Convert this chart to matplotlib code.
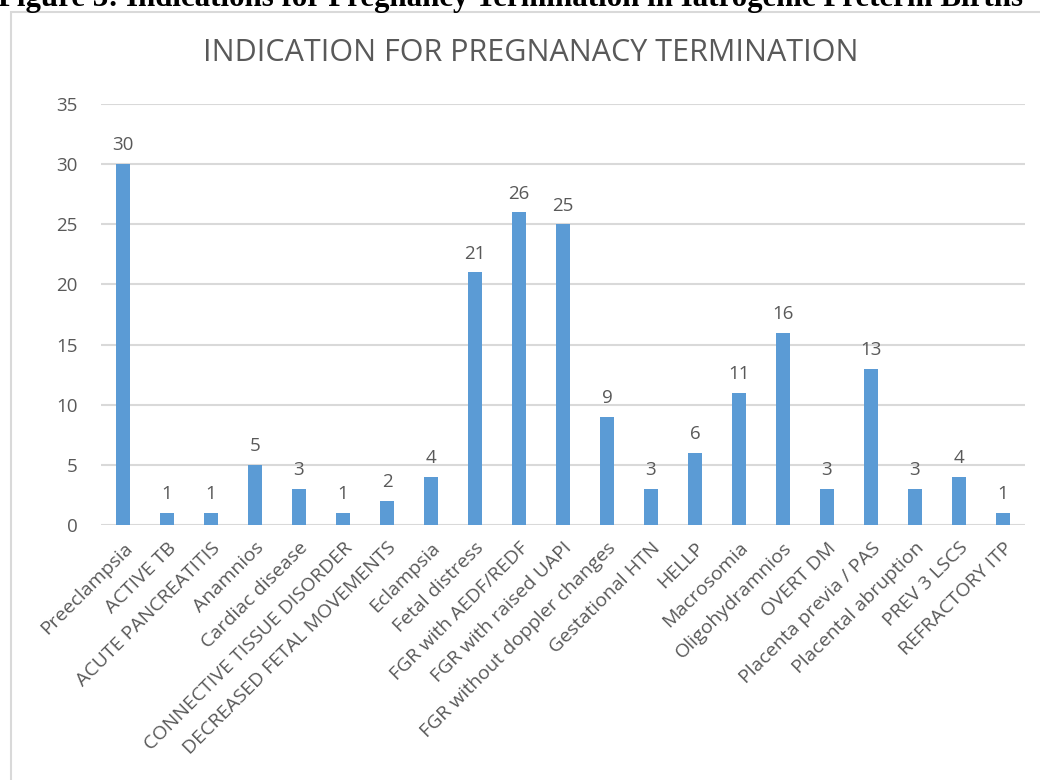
import matplotlib
matplotlib.use("Agg")
from matplotlib import pyplot as plt
from matplotlib.patches import Rectangle

# categories and counts
categories = ['Preeclampsia', 'ACTIVE TB', 'ACUTE PANCREATITIS', 'Anamnios',
              'Cardiac disease', 'CONNECTIVE TISSUE DISORDER',
              'DECREASED FETAL MOVEMENTS', 'Eclampsia', 'Fetal distress',
              'FGR with AEDF/REDF', 'FGR with raised UAPI',
              'FGR without doppler changes', 'Gestational HTN', 'HELLP',
              'Macrosomia', 'Oligohydramnios', 'OVERT DM',
              'Placenta previa / PAS', 'Placental abruption', 'PREV 3 LSCS',
              'REFRACTORY ITP']
counts = [30, 1, 1, 5, 3, 1, 2, 4, 21, 26, 25, 9, 3, 6, 11, 16, 3, 13, 3, 4, 1]
yticks = [0, 5, 10, 15, 20, 25, 30, 35]

BAR = '#5B9BD5'
TXT = '#595959'
GRID = '#D9D9D9'
W, H = 1040, 780

plt.rcParams['font.family'] = ['Open Sans', 'DejaVu Sans']

fig = plt.figure(figsize=(W / 100, H / 100), dpi=100)

# caption, mostly cut off at the top of the page crop
fig.text(-2 / W, 1 - 6 / H, 'Figure 3: Indications for Pregnancy Termination in Iatrogenic Preterm Births',
         family='Liberation Serif', weight='bold', fontsize=22.2, color='black',
         ha='left', va='baseline')

# chart area frame (right and bottom sides fall outside the crop)
fig.patches.append(Rectangle((11 / W, -0.1), 1.2, 1 - 12 / H + 0.1,
                             transform=fig.transFigure, fill=False,
                             edgecolor=GRID, lw=1.5))

fig.text(531 / W, 1 - 53 / H, 'INDICATION FOR PREGNANACY TERMINATION',
         fontsize=22, color=TXT, ha='center', va='center')

n = len(categories)
left, right = 101, 1025
ax = fig.add_axes([left / W, 1 - 525 / H, (right - left) / W, (525 - 104) / H])
x = range(n)
ax.bar(x, counts, width=0.32, color=BAR, zorder=3)
ax.set_xlim(-0.5, n - 0.5)
ax.set_ylim(0, 35)
ax.set_yticks(yticks)
ax.yaxis.grid(True, color=GRID, lw=1.5, zorder=0)
for s in ax.spines.values():
    s.set_visible(False)
ax.tick_params(axis='both', length=0, colors=TXT, labelsize=13.5)
ax.tick_params(axis='y', pad=17)
ax.set_xticks(list(x))
ax.set_xticklabels(categories, rotation=45, ha='right', rotation_mode='anchor',
                   fontsize=14)
ax.tick_params(axis='x', pad=10)

for xi, v in zip(x, counts):
    ax.annotate(str(v), (xi, v), xytext=(0, 7), textcoords='offset points',
                ha='center', va='bottom', fontsize=13.5, color=TXT)

fig.savefig('out.png', dpi=100)
